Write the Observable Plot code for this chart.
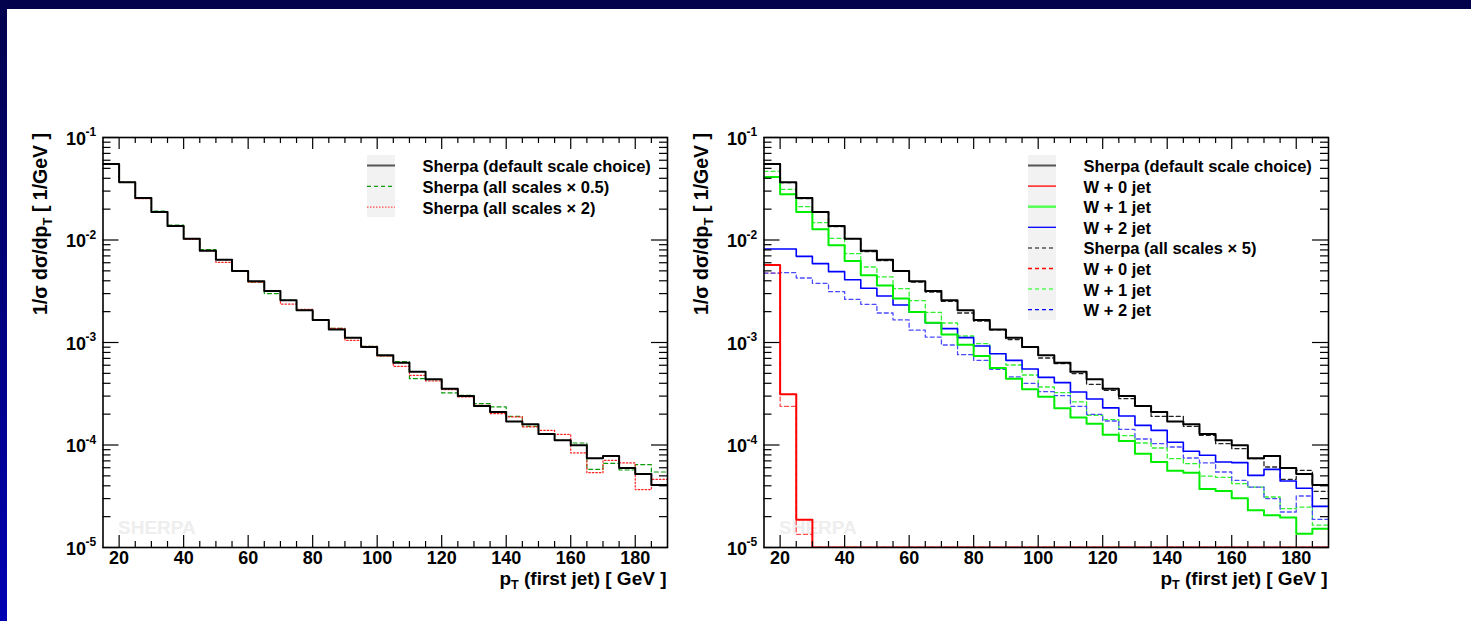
<!DOCTYPE html>
<html><head><meta charset="utf-8">
<script src="https://cdn.jsdelivr.net/npm/d3@7"></script>
<script src="https://cdn.jsdelivr.net/npm/@observablehq/plot@0.6"></script>
<style>
html,body{margin:0;padding:0;background:#fff;}
body{width:1471px;height:621px;position:relative;overflow:hidden;font-family:"Liberation Sans",Arial,Helvetica,sans-serif;}
#topbar{position:absolute;left:0;top:0;width:1471px;height:9px;background:#02024c;}
#leftbar{position:absolute;left:0;top:0;width:7px;height:621px;background:linear-gradient(#02024c,#0000b4);}
.panel{position:absolute;top:100px;}
</style></head><body>
<div id="topbar"></div><div id="leftbar"></div>
<div id="p1" class="panel" style="left:0px"></div>
<div id="p2" class="panel" style="left:661px"></div>
<script>
// ---------- data ----------
const ptLow = [15,20,25,30,35,40,45,50,55,60,65,70,75,80,85,90,95,100,105,110,115,120,125,130,135,140,145,150,155,160,165,170,175,180,185];
const binWidth = 5;
const xTicksMajor = [20,40,60,80,100,120,140,160,180];
const yDecades = [1e-5,1e-4,1e-3,1e-2,1e-1];
const yExponents = ["-5","-4","-3","-2","-1"];

const sherpaDefault = [0.0551,0.0365,0.0257,0.01876,0.0137,0.0103,0.00787,0.00643,0.00498,0.00395,0.00318,0.00258,0.00206,0.00166,0.00134,0.001115,0.000904,0.000749,0.000636,0.000519,0.000437,0.000354,0.000301,0.000240,0.000210,0.000170,0.000159,0.000128,0.000111,0.0000992,0.0000741,0.0000781,0.0000596,0.0000521,0.0000407];
const sherpaHalf = [0.0551,0.0368,0.0257,0.01918,0.01401,0.0103,0.00805,0.00643,0.00498,0.00389,0.00300,0.00258,0.00206,0.00166,0.001375,0.001115,0.000918,0.000738,0.000650,0.000444,0.000434,0.000322,0.000305,0.000253,0.000235,0.000190,0.000152,0.000127,0.000111,0.0001046,0.0000579,0.0000662,0.0000570,0.0000643,0.0000545];
const sherpaTwice = [0.0551,0.0365,0.02532,0.01876,0.0137,0.01015,0.00787,0.00606,0.00498,0.00389,0.00318,0.00237,0.00211,0.00166,0.001375,0.00105,0.000918,0.000738,0.000585,0.000478,0.000421,0.000347,0.000294,0.000244,0.000202,0.000188,0.000150,0.000139,0.000127,0.0000836,0.0000537,0.0000709,0.0000668,0.0000367,0.0000462];

const sherpaFive = [0.0556,0.0363,0.02532,0.01876,0.01349,0.0103,0.00769,0.00629,0.00498,0.00389,0.00311,0.00252,0.00194,0.00162,0.00133,0.00107,0.000897,0.000706,0.000622,0.000497,0.000391,0.000341,0.000283,0.000240,0.000190,0.000190,0.000152,0.0001243,0.000103,0.0000921,0.0000735,0.0000610,0.0000462,0.0000566,0.0000353];
const w0Default = [0.00570,0.000312,0.0000187,0,0,0,0,0,0,0,0,0,0,0,0,0,0,0,0,0,0,0,0,0,0,0,0,0,0,0,0,0,0,0,0];
const w1Default = [0.04117,0.0279,0.01876,0.01271,0.00887,0.00624,0.00452,0.00359,0.00268,0.00198,0.00156,0.00120,0.000953,0.000738,0.000564,0.000444,0.000349,0.000296,0.000228,0.000185,0.0001615,0.0001261,0.0001094,0.0000823,0.0000683,0.0000562,0.0000537,0.0000372,0.0000356,0.0000302,0.0000231,0.0000206,0.0000196,0.0000136,0.0000152];
const w2Default = [0.00817,0.00817,0.00693,0.00588,0.00491,0.00410,0.00338,0.00284,0.00232,0.00197,0.00156,0.001365,0.001115,0.000924,0.000778,0.000670,0.000551,0.000457,0.000406,0.000329,0.000281,0.000230,0.000192,0.0001555,0.000139,0.0001062,0.0000868,0.0000793,0.0000683,0.0000673,0.0000506,0.0000579,0.0000445,0.0000378,0.0000252];
const w0Five = [0.00476,0.000238,0.0000134,0,0,0,0,0,0,0,0,0,0,0,0,0,0,0,0,0,0,0,0,0,0,0,0,0,0,0,0,0,0,0,0];
const w1Five = [0.04677,0.03121,0.02114,0.01476,0.01038,0.00736,0.00545,0.00436,0.00335,0.00256,0.00197,0.00155,0.001157,0.000974,0.000778,0.000603,0.000482,0.000368,0.000324,0.000263,0.000195,0.0001767,0.0001234,0.0001046,0.0000935,0.0000735,0.0000657,0.0000498,0.0000484,0.0000419,0.0000389,0.0000311,0.0000239,0.0000248,0.0000165];
const w2Five = [0.00476,0.00480,0.00426,0.00378,0.00313,0.00264,0.00236,0.00194,0.00166,0.00132,0.00113,0.000945,0.000761,0.000670,0.000547,0.000461,0.000400,0.000331,0.000303,0.000238,0.000199,0.0001714,0.0001421,0.0001144,0.000103,0.0000956,0.0000747,0.0000668,0.0000545,0.0000452,0.0000389,0.0000300,0.0000222,0.0000318,0.0000188];

const leftLegend = ["Sherpa (default scale choice)", "Sherpa (all scales \u00d7 0.5)", "Sherpa (all scales \u00d7 2)"];
const rightLegend = ["Sherpa (default scale choice)", "W + 0 jet", "W + 1 jet", "W + 2 jet", "Sherpa (all scales \u00d7 5)", "W + 0 jet", "W + 1 jet", "W + 2 jet"];

// ---------- rendering ----------
const FONT = "'Liberation Sans', Arial, Helvetica, sans-serif";
const W = 700, H = 521, ML = 102.5, MR = 33, MT = 37, MB = 74;
const FW = W - ML - MR, FH = H - MT - MB;
const yMin = 1e-5, yMax = 1e-1;

function steps(values) {
  const pts = ptLow.map((x, i) => ({x, y: Math.max(values[i], yMin)}));
  pts.push({x: ptLow[ptLow.length - 1] + binWidth, y: pts[pts.length - 1].y});
  return pts;
}
const xMinor = d3.range(20, 190, 5).filter(v => !xTicksMajor.includes(v));
const yMinor = yDecades.slice(0, 4).flatMap(d => d3.range(2, 10).map(k => d * k));

function panel(series, legend) {
  const lines = series.map(s => Plot.line(steps(s.values), {
    x: "x", y: "y", curve: "step-after", stroke: s.color, strokeWidth: s.width,
    strokeDasharray: s.dash, clip: true
  }));
  const tk = {stroke: "black", strokeWidth: 1.2};
  const svg = Plot.plot({
    width: W, height: H, marginLeft: ML, marginRight: MR, marginTop: MT, marginBottom: MB,
    x: {domain: [15, 190], axis: null},
    y: {type: "log", domain: [yMin, yMax], axis: null},
    style: {fontFamily: FONT, background: "transparent", overflow: "visible", color: "black"},
    marks: [
      Plot.text(["SHERPA"], {frameAnchor: "bottom-left", dx: 15, dy: -14, lineAnchor: "bottom", textAnchor: "start",
        fill: "#eeeeee", fontSize: 19, fontWeight: "bold"}),
      ...lines,
      Plot.tickX(xTicksMajor, {x: d => d, insetTop: FH - 12, ...tk}),
      Plot.tickX(xTicksMajor, {x: d => d, insetBottom: FH - 12, ...tk}),
      Plot.tickX(xMinor, {x: d => d, insetTop: FH - 6, ...tk}),
      Plot.tickX(xMinor, {x: d => d, insetBottom: FH - 6, ...tk}),
      Plot.tickY(yDecades, {y: d => d, insetRight: FW - 16, ...tk}),
      Plot.tickY(yDecades, {y: d => d, insetLeft: FW - 16, ...tk}),
      Plot.tickY(yMinor, {y: d => d, insetRight: FW - 8, ...tk}),
      Plot.tickY(yMinor, {y: d => d, insetLeft: FW - 8, ...tk}),
      Plot.frame({stroke: "black", strokeWidth: 1.6}),
      Plot.axisX({ticks: xTicksMajor, tickSize: 0, tickPadding: 4, fontSize: 18, fontWeight: "bold",
        label: null, tickFormat: d => String(d)}),
      Plot.text(yDecades, {y: d => d, frameAnchor: "left", text: () => "10", textAnchor: "end",
        dx: -17, dy: 1.5, fontSize: 18, fontWeight: "bold"}),
      Plot.text(yDecades, {y: d => d, frameAnchor: "left", text: (d, i) => yExponents[i], textAnchor: "start",
        dx: -17.5, dy: -5, fontSize: 12, fontWeight: "bold"})
    ]
  });
  const g = d3.select(svg).append("g").attr("font-family", FONT).attr("font-weight", "bold");
  // y label
  const yl = g.append("text").attr("transform", "translate(47,33) rotate(-90)")
    .attr("text-anchor", "end").attr("font-size", 19.5).attr("fill", "black");
  yl.append("tspan").text("1/\u03c3 d\u03c3/dp");
  yl.append("tspan").attr("font-size", 13).attr("dy", 5).text("T");
  yl.append("tspan").attr("dy", -5).text(" [ 1/GeV ]");
  // x label
  const xl = g.append("text").attr("x", ML + FW - 0.5).attr("y", 484.5)
    .attr("text-anchor", "end").attr("font-size", 19).attr("fill", "black");
  xl.append("tspan").text("p");
  xl.append("tspan").attr("font-size", 12.5).attr("dy", 4).text("T");
  xl.append("tspan").attr("dy", -4).text(" (first jet) [ GeV ]");
  // legend
  const lg = g.append("g");
  lg.append("rect").attr("x", legend.x).attr("y", 55).attr("width", 28)
    .attr("height", legend.boxH).attr("fill", "#f2f2f2");
  legend.items.forEach((it, i) => {
    const y = 65.5 + i * legend.dy;
    lg.append("line").attr("x1", legend.x).attr("x2", legend.x + 28).attr("y1", y).attr("y2", y)
      .attr("stroke", it.color).attr("stroke-width", it.width).attr("stroke-dasharray", it.dash || null);
    lg.append("text").attr("x", legend.x + legend.tx).attr("y", y + 6.5).attr("font-size", 16.5)
      .attr("text-anchor", "start").attr("fill", "black").text(it.label);
  });
  return svg;
}

const leftSeries = [
  {values: sherpaHalf, color: "#0a9a0a", width: 1.2, dash: "4,3"},
  {values: sherpaTwice, color: "#ff2020", width: 1.2, dash: "1.5,2"},
  {values: sherpaDefault, color: "black", width: 2}
];
const rightSeries = [
  {values: w0Five, color: "#ff5050", width: 1.3, dash: "4,3"},
  {values: w1Five, color: "#30f030", width: 1.3, dash: "4,3"},
  {values: w2Five, color: "#4a4aff", width: 1.3, dash: "4,3"},
  {values: sherpaFive, color: "#222", width: 1.3, dash: "4,3"},
  {values: w2Default, color: "#0000ff", width: 1.6},
  {values: w1Default, color: "#00ee00", width: 2},
  {values: w0Default, color: "#ff0000", width: 2},
  {values: sherpaDefault, color: "black", width: 2}
];
const leftLeg = {x: 367, tx: 55.5, dy: 20.8, boxH: 62, items: [
  {label: leftLegend[0], color: "#555", width: 2},
  {label: leftLegend[1], color: "#0a9a0a", width: 1.3, dash: "4,3"},
  {label: leftLegend[2], color: "#ff5050", width: 1.3, dash: "1.5,1.5"}
]};
const rightLeg = {x: 367, tx: 55.5, dy: 20.6, boxH: 165, items: [
  {label: rightLegend[0], color: "#555", width: 2},
  {label: rightLegend[1], color: "#ff0000", width: 1.3},
  {label: rightLegend[2], color: "#55ff55", width: 2.5},
  {label: rightLegend[3], color: "#0000ff", width: 1.3},
  {label: rightLegend[4], color: "#555", width: 1.5, dash: "4,3"},
  {label: rightLegend[5], color: "#ff0000", width: 1.3, dash: "4,3"},
  {label: rightLegend[6], color: "#55ff55", width: 1.5, dash: "4,3"},
  {label: rightLegend[7], color: "#0000ff", width: 1.3, dash: "4,3"}
]};
document.getElementById("p1").appendChild(panel(leftSeries, leftLeg));
document.getElementById("p2").appendChild(panel(rightSeries, rightLeg));
</script>
</body></html>
